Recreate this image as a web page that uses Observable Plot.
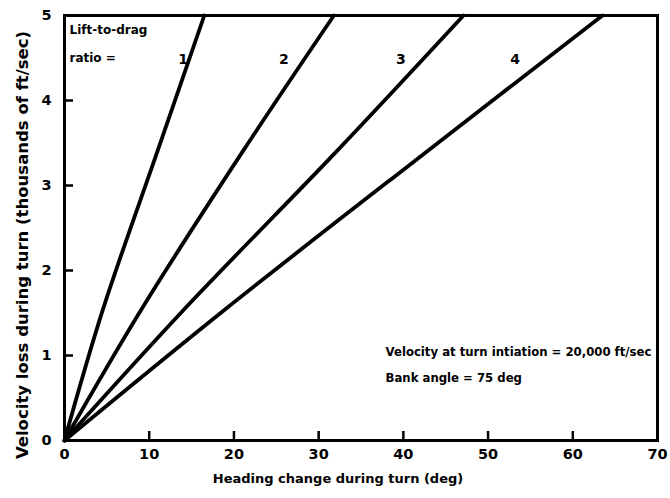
<!DOCTYPE html>
<html>
<head>
<meta charset="utf-8">
<script src="https://cdn.jsdelivr.net/npm/d3@7"></script>
<script src="https://cdn.jsdelivr.net/npm/@observablehq/plot@0.6"></script>
<style>
  html, body { margin: 0; padding: 0; background: #fff; }
</style>
</head>
<body>
<div id="chart"></div>
<script>
// Velocity loss (thousands of ft/sec) reached at each sampled level
const lossLevels = [0, 1.53, 3.41, 5.0];
// Heading change (deg) at those losses, one list per lift-to-drag ratio
const liftToDrag = [1, 2, 3, 4];
const headingLD1 = [0, 4.5, 11.0, 16.5];
const headingLD2 = [0, 9.0, 21.1, 31.8];
const headingLD3 = [0, 14.0, 32.2, 47.1];
const headingLD4 = [0, 18.8, 42.9, 63.5];
const xTicks = [0, 10, 20, 30, 40, 50, 60, 70];
const yTicks = [0, 1, 2, 3, 4, 5];

const headings = [headingLD1, headingLD2, headingLD3, headingLD4];
const rows = liftToDrag.flatMap((ld, i) =>
  headings[i].map((h, j) => ({ld, heading: h, loss: lossLevels[j]}))
);

const W = 670, H = 498;
const mL = 64, mR = 13, mT = 15, mB = 58;
const plotW = W - mL - mR, plotH = H - mT - mB;
const tickLen = 9;
const font = "'DejaVu Sans', sans-serif";

// where each ratio's number sits, just left of its curve near the top
const ratioLabelX = [14.0, 25.9, 39.7, 53.2];

const chart = Plot.plot({
  width: W,
  height: H,
  marginLeft: mL,
  marginRight: mR,
  marginTop: mT,
  marginBottom: mB,
  style: {fontFamily: font, fontWeight: "bold", fontSize: "13px", color: "#000", background: "#fff"},
  x: {domain: [0, 70]},
  y: {domain: [0, 5]},
  marks: [
    Plot.axisX({ticks: xTicks, tickSize: 0, tickPadding: 8, tickFormat: "d", fontSize: 14.5, label: null}),
    Plot.axisY({ticks: yTicks, tickSize: 0, tickPadding: 13, tickFormat: "d", fontSize: 14.5, label: null}),
    // inward tick stubs
    Plot.tickX(xTicks.slice(1, -1), {x: d => d, insetTop: plotH - tickLen, strokeWidth: 2.5, stroke: "#000"}),
    Plot.tickY(yTicks.slice(1, -1), {y: d => d, insetRight: plotW - tickLen, strokeWidth: 2.5, stroke: "#000"}),
    Plot.line(rows, {x: "heading", y: "loss", z: "ld", stroke: "#000", strokeWidth: 3.8, curve: "catmull-rom"}),
    Plot.frame({stroke: "#000", strokeWidth: 3}),
    // ratio labels
    Plot.text(liftToDrag, {x: (d, i) => ratioLabelX[i], y: 4.48, text: d => String(d), fontSize: 14}),
    Plot.text(["Lift-to-drag"], {frameAnchor: "top-left", dx: 5, dy: 15, textAnchor: "start", lineAnchor: "middle", fontSize: 12}),
    Plot.text(["ratio ="], {frameAnchor: "top-left", dx: 5, dy: 43, textAnchor: "start", lineAnchor: "middle", fontSize: 12}),
    // flight conditions
    Plot.text(["Velocity at turn intiation = 20,000 ft/sec"], {x: 37.9, y: 1.035, textAnchor: "start", fontSize: 11.7}),
    Plot.text(["Bank angle = 75 deg"], {x: 37.9, y: 0.73, textAnchor: "start", fontSize: 11.7}),
    // axis titles
    Plot.text(["Heading change during turn (deg)"], {frameAnchor: "bottom", textAnchor: "middle", lineAnchor: "middle", dx: -23, dy: 38, fontSize: 13}),
    Plot.text(["Velocity loss during turn (thousands of ft/sec)"], {frameAnchor: "left", textAnchor: "middle", lineAnchor: "middle", dx: -42, dy: 17, rotate: -90, fontSize: 16.5})
  ]
});

document.getElementById("chart").appendChild(chart);
</script>
</body>
</html>
